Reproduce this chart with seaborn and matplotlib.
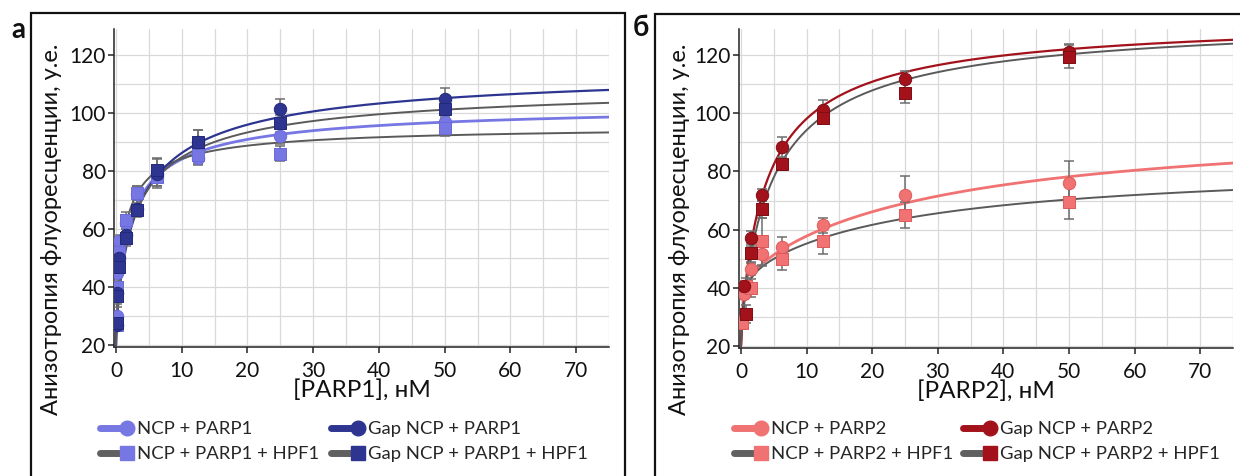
import numpy as np
import pandas as pd
import matplotlib
matplotlib.use("Agg")
import matplotlib.pyplot as plt
import seaborn as sns
from matplotlib.lines import Line2D
from matplotlib.patches import Rectangle
from matplotlib.legend_handler import HandlerLine2D

# ---------------- data: panel а (PARP1) ----------------
xA = [0.1, 0.2, 0.4, 1.56, 3.13, 6.25, 12.5, 25, 50]
a_ncp_y = [30, 45, 56, 62, 72, 78, 84.5, 92, 97]
a_ncp_err = [3, 2, 2, 3, 3, 3, 2.5, 2.5, 2.5]
a_ncp_hpf_y = [27, 40, 52, 63, 72.5, 78, 85.5, 86, 95]
a_ncp_hpf_err = [2, 2, 2, 3, 2.5, 3, 3, 2.5, 3]
a_gap_y = [27, 38, 50, 58, 67, 79, 90, 101.5, 105]
a_gap_err = [2, 3, 3, 3, 3, 5, 4, 3.5, 3.5]
a_gap_hpf_y = [27.5, 37, 47, 57, 66.5, 80.5, 90, 96.5, 101.5]
a_gap_hpf_err = [2, 3, 3, 3, 2, 4, 4, 3, 3]

# fit parameters (y0, A, k1, B, k2, n) for y = y0 + A x/(k1+x) + B x^n/(k2^n + x^n)
a_ncp_fit = [20, 0, 1, 84, 2.1, 0.75]
a_ncp_hpf_fit = [20, 0, 1, 76, 1.2, 0.8]
a_gap_fit = [20, 0, 1, 97, 3.6, 0.75]
a_gap_hpf_fit = [20, 0, 1, 91, 3.0, 0.75]

# ---------------- data: panel б (PARP2) ----------------
b_ncp_x = [0.1, 0.4, 1.56, 3.13, 6.25, 12.5, 25, 50]
b_ncp_y = [28.5, 38, 46.5, 51.5, 54, 61.5, 72, 76]
b_ncp_err = [1.5, 2, 2, 4, 3.5, 2.5, 6.5, 7.5]
b_ncp_hpf_x = [0.1, 0.8, 1.56, 3.13, 6.25, 12.5, 25, 50]
b_ncp_hpf_y = [28, 40.5, 40, 56, 50, 56, 65, 69.5]
b_ncp_hpf_err = [2, 3, 3, 8, 4, 4.5, 4.5, 6]
b_gap_x = [0.4, 1.56, 3.13, 6.25, 12.5, 25, 50]
b_gap_y = [40.5, 57, 72, 88.5, 101, 111.7, 121]
b_gap_err = [2, 2.5, 2, 3.5, 3.5, 3, 3]
b_gap_hpf_x = [0.8, 1.56, 3.13, 6.25, 12.5, 25, 50]
b_gap_hpf_y = [31, 52, 67, 82.5, 98.5, 107, 119.5]
b_gap_hpf_err = [3, 3, 3, 2, 2, 3.5, 4]

b_ncp_fit = [20, 25, 0.3, 52.7, 29, 1.0]
b_ncp_hpf_fit = [20, 25, 0.3, 38.3, 25, 1.0]
b_gap_fit = [20, 0, 1, 114, 4.0, 0.85]
b_gap_hpf_fit = [20, 0, 1, 114, 4.8, 0.85]

labels_A = ["NCP + PARP1", "NCP + PARP1 + HPF1", "Gap NCP + PARP1", "Gap NCP + PARP1 + HPF1"]
labels_B = ["NCP + PARP2", "NCP + PARP2 + HPF1", "Gap NCP + PARP2", "Gap NCP + PARP2 + HPF1"]
x_ticks = [0, 10, 20, 30, 40, 50, 60, 70]
y_ticks = [20, 40, 60, 80, 100, 120]

# ---------------- style ----------------
LIGHT_BLUE = "#7777e4"
NAVY = "#2d3590"
LIGHT_RED = "#f07272"
DARK_RED = "#a3121b"
GRAY = "#5a5a5a"
ERR = "#6e6e6e"

sns.set_theme(style="ticks")
plt.rcParams['font.family'] = ['Lato', 'Open Sans', 'DejaVu Sans']

W, H = 1240, 476
fig = plt.figure(figsize=(W / 100, H / 100), dpi=100)


def rect(l, t, r, b):
    return [l / W, 1 - b / H, (r - l) / W, (b - t) / H]


def model(x, p):
    y0, A, k1, B, k2, n = p
    x = np.asarray(x, dtype=float)
    return y0 + A * x / (k1 + x) + B * x ** n / (k2 ** n + x ** n)


xx = np.concatenate([[0.0], np.geomspace(1e-3, 75, 700)])


class EndMarker(HandlerLine2D):
    def create_artists(self, legend, orig_handle, xdescent, ydescent,
                       width, height, fontsize, trans):
        arts = super().create_artists(legend, orig_handle, xdescent, ydescent,
                                      width, height, fontsize, trans)
        if len(arts) == 1:
            ln = arts[0]
            ln.set_markevery([len(ln.get_xdata()) - 1])
        else:
            ln, mk = arts[0], arts[1]
            mk.set_xdata([ln.get_xdata()[-1]])
        return arts


def panel(ax, series, xlabel):
    for x, y, e, fit, cc, mk, mc, ec, lw in series:
        sns.lineplot(x=xx, y=model(xx, fit), color=cc, linewidth=lw, ax=ax,
                     zorder=2, legend=False, estimator=None)
    for x, y, e, fit, cc, mk, mc, ec, lw in series:
        ax.errorbar(x, y, yerr=e, fmt="none", ecolor=ERR, elinewidth=1.1,
                    capsize=3.5, capthick=1.1, zorder=3)
    for x, y, e, fit, cc, mk, mc, ec, lw in series:
        df = pd.DataFrame({"x": x, "y": y})
        sns.scatterplot(data=df, x="x", y="y", marker=mk, s=80 if mk == "o" else 72,
                        color=mc, edgecolor=ec, linewidth=0.7, ax=ax, zorder=4,
                        legend=False)
    ax.set_xlim(-0.3, 75)
    ax.set_ylim(19.3, 129)
    ax.set_xticks(x_ticks)
    ax.set_xticks(np.arange(5, 76, 10), minor=True)
    ax.set_yticks(y_ticks)
    ax.set_yticks(np.arange(30, 130, 20), minor=True)
    ax.grid(True, which="both", color="#d9d9d9", linewidth=0.9)
    ax.set_axisbelow(True)
    ax.tick_params(which="minor", length=0)
    ax.tick_params(which="major", length=4, width=1.1, color="#222222",
                   labelsize=15, labelcolor="#111111")
    ax.tick_params(axis="x", which="major", pad=6)
    ax.tick_params(axis="y", which="major", pad=2)
    for s in ["top", "right"]:
        ax.spines[s].set_visible(False)
    for s in ["left", "bottom"]:
        ax.spines[s].set_color("#222222")
        ax.spines[s].set_linewidth(1.1)
    ax.set_xlabel(xlabel, fontsize=17.5, labelpad=-1, color="#111111")
    ax.set_ylabel("")


axA = fig.add_axes(rect(114, 29, 609, 347))
axB = fig.add_axes(rect(739, 29, 1233, 348))

panel(axA, [
    (xA, a_ncp_y, a_ncp_err, a_ncp_fit, LIGHT_BLUE, "o", LIGHT_BLUE, "#6a6ad8", 2.0),
    (xA, a_ncp_hpf_y, a_ncp_hpf_err, a_ncp_hpf_fit, GRAY, "s", LIGHT_BLUE, "#6a6ad8", 1.4),
    (xA, a_gap_y, a_gap_err, a_gap_fit, NAVY, "o", NAVY, "#23297a", 1.6),
    (xA, a_gap_hpf_y, a_gap_hpf_err, a_gap_hpf_fit, GRAY, "s", NAVY, "#23297a", 1.4),
], "[PARP1], нМ")

panel(axB, [
    (b_ncp_x, b_ncp_y, b_ncp_err, b_ncp_fit, LIGHT_RED, "o", LIGHT_RED, "#e05a5a", 2.0),
    (b_ncp_hpf_x, b_ncp_hpf_y, b_ncp_hpf_err, b_ncp_hpf_fit, GRAY, "s", LIGHT_RED, "#e05a5a", 1.4),
    (b_gap_x, b_gap_y, b_gap_err, b_gap_fit, DARK_RED, "o", DARK_RED, "#7e0d14", 1.6),
    (b_gap_hpf_x, b_gap_hpf_y, b_gap_hpf_err, b_gap_hpf_fit, GRAY, "s", DARK_RED, "#7e0d14", 1.4),
], "[PARP2], нМ")

# y labels
ylab = "Анизотропия флуоресценции, у.е."
fig.text(52 / W, 1 - 229 / H, ylab, rotation=90, ha="center", va="center",
         fontsize=17, color="#111111")
fig.text(680 / W, 1 - 229 / H, ylab, rotation=90, ha="center", va="center",
         fontsize=17, color="#111111")

# panel letters
fig.text(18 / W, 1 - 30 / H, "а", ha="center", va="center", fontsize=20,
         fontweight="bold", color="#111111")
fig.text(641 / W, 1 - 28 / H, "б", ha="center", va="center", fontsize=20,
         fontweight="bold", color="#111111")

# panel frames
fig.add_artist(Rectangle((31 / W, -0.1), (625 - 31) / W, 1.1 - 13 / H,
                         transform=fig.transFigure, fill=False, lw=1.6,
                         edgecolor="#111111"))
fig.add_artist(Rectangle((655 / W, -0.1), 0.5, 1.1 - 14 / H,
                         transform=fig.transFigure, fill=False, lw=1.6,
                         edgecolor="#111111"))


def handle(lc, mk, mc):
    return Line2D([], [], color=lc, lw=5, marker=mk,
                  markersize=10.5 if mk == "o" else 10,
                  markerfacecolor=mc, markeredgecolor=mc)


legend_cols = [
    (100, [handle(LIGHT_BLUE, "o", LIGHT_BLUE), handle("#606060", "s", LIGHT_BLUE)], labels_A[:2]),
    (331, [handle(NAVY, "o", NAVY), handle("#606060", "s", NAVY)], labels_A[2:]),
    (734, [handle(LIGHT_RED, "o", LIGHT_RED), handle("#606060", "s", LIGHT_RED)], labels_B[:2]),
    (963, [handle(DARK_RED, "o", DARK_RED), handle("#606060", "s", DARK_RED)], labels_B[2:]),
]
for x0, hs, labs in legend_cols:
    fig.legend(hs, labs, loc="upper left", bbox_to_anchor=(x0 / W, 1 - 421 / H),
               ncol=1, frameon=False, fontsize=13.3, handlelength=1.45,
               handletextpad=0.55, labelspacing=0.5,
               borderpad=0, borderaxespad=0,
               handler_map={Line2D: EndMarker(numpoints=1)})

fig.savefig("out.png", dpi=100)
